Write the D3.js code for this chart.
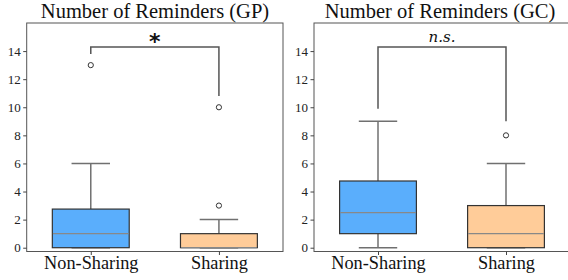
<!DOCTYPE html>
<html>
<head>
<meta charset="utf-8">
<script src="https://cdn.jsdelivr.net/npm/d3@7"></script>
<style>
  body { margin: 0; background: #fff; }
  svg { display: block; }
</style>
</head>
<body>
<svg id="chart" width="568" height="280"></svg>
<script>
// Box-plot summaries
const groups = ['Non-Sharing', 'Sharing'];
const panelTitles = ['Number of Reminders (GP)', 'Number of Reminders (GC)'];
const yTicks = [0, 2, 4, 6, 8, 10, 12, 14];

// GP panel
const gpStats = [
  { lo: 0, q1: 0, med: 1, q3: 2.75, hi: 6, out: [13] },
  { lo: 0, q1: 0, med: 0, q3: 1, hi: 2, out: [3, 10] }
];
// GC panel
const gcStats = [
  { lo: 0, q1: 1, med: 2.5, q3: 4.75, hi: 9, out: [] },
  { lo: 0, q1: 0, med: 1, q3: 3, hi: 6, out: [8] }
];
// significance brackets: [leftDrop, top, rightDrop], label
const brackets = [
  { y: [13.8, 14.3, 10.8], label: '*' },
  { y: [9.9, 14.3, 9.0], label: 'n.s.' }
];
const panelStats = [gpStats, gcStats];

const fills = ['#5aaefc', '#ffcc99'];
const SERIF = '"Liberation Serif"';
const svg = d3.select('#chart');

const panels = [
  { left: 26.7, right: 283, titleX: 155 },
  { left: 314, right: 570, titleX: 440 }
];
const plotTop = 23, plotBottom = 251.5;

panels.forEach((p, pi) => {
  const stats = panelStats[pi];
  const x = d3.scaleLinear().domain([0.5, 2.5]).range([p.left, p.right]);
  const y = d3.scaleLinear().domain([-0.27, 16]).range([plotBottom, plotTop]);
  const g = svg.append('g');

  // frame
  g.append('rect')
    .attr('x', p.left).attr('y', plotTop)
    .attr('width', p.right - p.left).attr('height', plotBottom - plotTop)
    .attr('fill', 'none').attr('stroke', '#555').attr('stroke-width', 1);

  // y axis
  const yAxis = g.append('g').attr('transform', `translate(${p.left},0)`)
    .call(d3.axisLeft(y).tickValues(yTicks).tickSize(3.5).tickPadding(2.5));
  yAxis.select('.domain').remove();
  yAxis.selectAll('line').attr('stroke', '#444');
  yAxis.selectAll('text').attr('fill', '#222')
    .style('font-family', SERIF).style('font-size', '13px');

  // x axis
  const xAxis = g.append('g').attr('transform', `translate(0,${plotBottom})`)
    .call(d3.axisBottom(x).tickValues([1, 2]).tickFormat((d, i) => groups[i]).tickSize(3.5).tickPadding(1));
  xAxis.select('.domain').remove();
  xAxis.selectAll('line').attr('stroke', '#444');
  xAxis.selectAll('text').attr('fill', '#111')
    .style('font-family', SERIF).style('font-size', '18.3px');

  // title
  g.append('text')
    .attr('x', p.titleX).attr('y', 18)
    .attr('text-anchor', 'middle').attr('fill', '#111')
    .style('font-family', SERIF).style('font-size', '20.5px')
    .text(panelTitles[pi]);

  // boxes
  const bw = 0.6;
  stats.forEach((s, i) => {
    const cx = x(i + 1);
    const half = (x(1 + bw / 2) - x(1));
    // whiskers
    g.append('line').attr('x1', cx).attr('x2', cx).attr('y1', y(s.q3)).attr('y2', y(s.hi))
      .attr('stroke', '#707070').attr('stroke-width', 1.5);
    g.append('line').attr('x1', cx).attr('x2', cx).attr('y1', y(s.q1)).attr('y2', y(s.lo))
      .attr('stroke', '#707070').attr('stroke-width', 1.5);
    g.append('line').attr('x1', cx - half / 2).attr('x2', cx + half / 2).attr('y1', y(s.hi)).attr('y2', y(s.hi))
      .attr('stroke', '#707070').attr('stroke-width', 1.5);
    g.append('line').attr('x1', cx - half / 2).attr('x2', cx + half / 2).attr('y1', y(s.lo)).attr('y2', y(s.lo))
      .attr('stroke', '#707070').attr('stroke-width', 1.5);
    // box
    g.append('rect')
      .attr('x', cx - half).attr('y', y(s.q3))
      .attr('width', half * 2).attr('height', Math.max(0, y(s.q1) - y(s.q3)))
      .attr('fill', fills[i]).attr('stroke', '#333').attr('stroke-width', 1.2);
    // median
    g.append('line').attr('x1', cx - half + 0.6).attr('x2', cx + half - 0.6).attr('y1', y(s.med)).attr('y2', y(s.med))
      .attr('stroke', '#888').attr('stroke-width', 1.3);
    // outliers
    s.out.forEach(v => {
      g.append('circle').attr('cx', cx).attr('cy', y(v)).attr('r', 2.6)
        .attr('fill', 'none').attr('stroke', '#333').attr('stroke-width', 1);
    });
  });

  // significance bracket
  const b = brackets[pi];
  g.append('path')
    .attr('d', `M${x(1)},${y(b.y[0])}V${y(b.y[1])}H${x(2)}V${y(b.y[2])}`)
    .attr('fill', 'none').attr('stroke', '#555').attr('stroke-width', 1.5);
  if (b.label === '*') {
    g.append('text').attr('x', (x(1) + x(2)) / 2).attr('y', y(b.y[1]) + 2)
      .attr('text-anchor', 'middle').attr('fill', '#111')
      .style('font-family', '"DejaVu Sans"').style('font-size', '22px').style('font-weight', 'bold')
      .text(b.label);
  } else {
    g.append('text').attr('x', (x(1) + x(2)) / 2).attr('y', y(b.y[1]) - 5)
      .attr('text-anchor', 'middle').attr('fill', '#111')
      .style('font-family', '"DejaVu Serif"').style('font-size', '15px').style('font-style', 'italic')
      .text(b.label);
  }
});
</script>
</body>
</html>
